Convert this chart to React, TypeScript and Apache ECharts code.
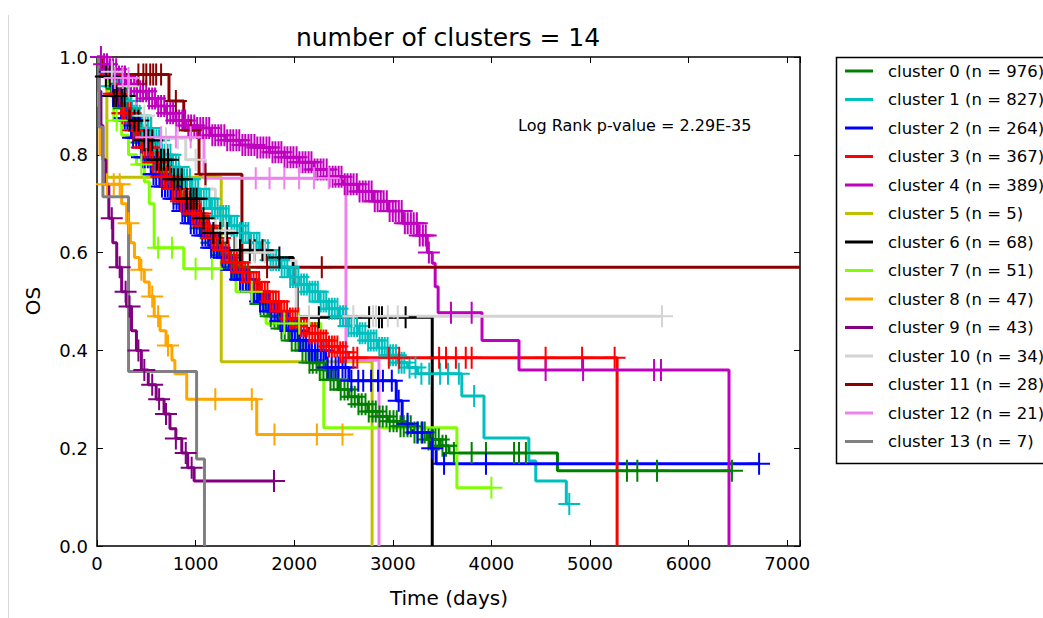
import React, { useEffect, useRef } from 'react';
import * as echarts from 'echarts';

// ---------- data (time in days, survival probability) ----------
const X_MAX = 7130;
const xTicks = [0, 1000, 2000, 3000, 4000, 5000, 6000, 7000];
const yTicks = [0, 0.2, 0.4, 0.6, 0.8, 1.0];

const clusterNames = [
  'cluster 0 (n = 976)', 'cluster 1 (n = 827)', 'cluster 2 (n = 264)', 'cluster 3 (n = 367)',
  'cluster 4 (n = 389)', 'cluster 5 (n = 5)', 'cluster 6 (n = 68)', 'cluster 7 (n = 51)',
  'cluster 8 (n = 47)', 'cluster 9 (n = 43)', 'cluster 10 (n = 34)', 'cluster 11 (n = 28)',
  'cluster 12 (n = 21)', 'cluster 13 (n = 7)',
];
const clusterColors = [
  '#008000', '#00bfbf', '#0000ff', '#ff0000', '#bf00bf', '#bfbf00', '#000000',
  '#7fff00', '#ffa500', '#800080', '#d3d3d3', '#8b0000', '#ee82ee', '#808080',
];

// cluster 0
const c0T = [0, 50, 150, 250, 350, 450, 550, 650, 750, 850, 950, 1050, 1150, 1250, 1350, 1450, 1550, 1650, 1750, 1850, 1950, 2050, 2150, 2250, 2350, 2450, 2550, 2650, 2750, 2850, 2950, 3050, 3200, 3350, 3480, 3570, 4670];
const c0S = [1, 0.975, 0.935, 0.895, 0.86, 0.825, 0.79, 0.76, 0.73, 0.7, 0.675, 0.65, 0.62, 0.595, 0.57, 0.545, 0.52, 0.495, 0.47, 0.445, 0.42, 0.4, 0.375, 0.36, 0.34, 0.32, 0.305, 0.29, 0.275, 0.265, 0.255, 0.245, 0.232, 0.218, 0.205, 0.19, 0.154];
const c0Last = 6440;
const c0Cens = [200, 238, 271, 309, 342, 380, 413, 451, 484, 522, 555, 593, 626, 664, 697, 735, 768, 806, 839, 877, 910, 948, 981, 1019, 1052, 1090, 1123, 1161, 1194, 1232, 1265, 1303, 1336, 1374, 1407, 1445, 1478, 1516, 1549, 1587, 1620, 1658, 1691, 1729, 1762, 1800, 1833, 1871, 1904, 1942, 1975, 2013, 2046, 2084, 2117, 2155, 2188, 2226, 2259, 2297, 2330, 2368, 2401, 2439, 2472, 2510, 2543, 2581, 2614, 2652, 2685, 2723, 2756, 2794, 2827, 2865, 2898, 2936, 2969, 3007, 3040, 3078, 3111, 3149, 3182, 3220, 3253, 3291, 3324, 3362, 3395, 3433, 3466, 3504, 3540, 3620, 3800, 3945, 4230, 4280, 4350, 5375, 5480, 5680, 6440];

// cluster 1
const c1T = [0, 60, 150, 250, 350, 450, 550, 650, 750, 850, 950, 1050, 1150, 1250, 1350, 1450, 1550, 1650, 1750, 1850, 1950, 2050, 2150, 2250, 2350, 2450, 2550, 2650, 2750, 2850, 2950, 3050, 3150, 3250, 3700, 3925, 4380, 4450, 4760];
const c1S = [1, 0.97, 0.94, 0.91, 0.88, 0.855, 0.83, 0.8, 0.775, 0.75, 0.73, 0.71, 0.69, 0.675, 0.655, 0.64, 0.62, 0.605, 0.585, 0.57, 0.55, 0.535, 0.52, 0.5, 0.485, 0.47, 0.45, 0.435, 0.42, 0.405, 0.39, 0.375, 0.365, 0.352, 0.307, 0.221, 0.174, 0.133, 0.086];
const c1Last = 4790;
const c1Cens = [150, 178, 205, 236, 262, 291, 318, 349, 377, 404, 433, 461, 490, 516, 547, 575, 603, 630, 659, 688, 716, 745, 771, 800, 829, 857, 884, 913, 942, 969, 998, 1026, 1055, 1083, 1110, 1139, 1168, 1195, 1224, 1252, 1281, 1309, 1336, 1365, 1394, 1421, 1450, 1478, 1507, 1535, 1562, 1591, 1620, 1647, 1676, 1704, 1733, 1761, 1788, 1817, 1846, 1873, 1902, 1930, 1959, 1987, 2014, 2043, 2072, 2099, 2128, 2156, 2185, 2213, 2240, 2269, 2298, 2325, 2354, 2382, 2411, 2439, 2466, 2495, 2524, 2551, 2580, 2608, 2637, 2665, 2692, 2721, 2750, 2777, 2806, 2834, 2863, 2891, 2918, 2947, 2976, 3003, 3032, 3060, 3089, 3117, 3170, 3230, 3290, 3370, 3480, 3560, 3670, 3825, 4790];

// cluster 2
const c2T = [0, 50, 150, 250, 350, 450, 550, 650, 750, 850, 950, 1050, 1150, 1250, 1350, 1450, 1550, 1650, 1750, 1850, 1950, 2050, 2150, 2320, 2555, 3035, 3095, 3200, 3380, 3440];
const c2S = [1, 0.97, 0.92, 0.875, 0.835, 0.795, 0.76, 0.735, 0.71, 0.685, 0.66, 0.635, 0.61, 0.59, 0.565, 0.545, 0.52, 0.5, 0.48, 0.46, 0.44, 0.42, 0.4, 0.365, 0.338, 0.297, 0.25, 0.232, 0.2, 0.168];
const c2Last = 6715;
const c2Cens = [130, 163, 191, 222, 249, 281, 308, 339, 366, 398, 425, 456, 483, 515, 542, 573, 600, 632, 659, 690, 717, 749, 776, 807, 834, 866, 893, 924, 951, 983, 1010, 1041, 1068, 1100, 1127, 1158, 1185, 1217, 1244, 1275, 1302, 1334, 1361, 1392, 1419, 1451, 1478, 1509, 1536, 1568, 1595, 1626, 1653, 1685, 1712, 1743, 1770, 1802, 1829, 1860, 1887, 1919, 1946, 1977, 2004, 2036, 2063, 2094, 2121, 2153, 2180, 2211, 2238, 2270, 2297, 2340, 2380, 2420, 2450, 2490, 2520, 2580, 2650, 2700, 2780, 2850, 2900, 2990, 3060, 3150, 3250, 3300, 3400, 3520, 3945, 6715];

// cluster 3
const c3T = [0, 60, 150, 250, 350, 450, 550, 650, 750, 850, 950, 1050, 1150, 1250, 1350, 1450, 1550, 1650, 1750, 1850, 1950, 2050, 2150, 2250, 2350, 2450, 2550, 5275];
const c3S = [1, 0.965, 0.925, 0.885, 0.85, 0.815, 0.785, 0.755, 0.73, 0.705, 0.68, 0.655, 0.63, 0.605, 0.58, 0.56, 0.54, 0.52, 0.5, 0.48, 0.465, 0.45, 0.435, 0.42, 0.408, 0.396, 0.385, 0];
const c3Last = 5275;
const c3Cens = [140, 172, 199, 228, 257, 284, 313, 342, 369, 398, 427, 454, 483, 512, 539, 568, 597, 624, 653, 682, 709, 738, 767, 794, 823, 852, 879, 908, 937, 964, 993, 1022, 1049, 1078, 1107, 1134, 1163, 1192, 1219, 1248, 1277, 1304, 1333, 1362, 1389, 1418, 1447, 1474, 1503, 1532, 1559, 1588, 1617, 1644, 1673, 1702, 1729, 1758, 1787, 1814, 1843, 1872, 1899, 1928, 1957, 1984, 2013, 2042, 2069, 2098, 2127, 2154, 2183, 2212, 2239, 2268, 2297, 2324, 2353, 2382, 2409, 2438, 2467, 2494, 2523, 2600, 2640, 2960, 3065, 3470, 3540, 3640, 3740, 3800, 4550, 4920, 5250];

// cluster 4
const c4T = [0, 60, 120, 200, 300, 400, 500, 600, 700, 800, 900, 1000, 1150, 1300, 1450, 1600, 1750, 1900, 2050, 2200, 2350, 2500, 2650, 2800, 2950, 3100, 3250, 3350, 3400, 3430, 3460, 3905, 4280, 6410];
const c4S = [1, 0.985, 0.975, 0.96, 0.945, 0.93, 0.915, 0.9, 0.885, 0.87, 0.86, 0.855, 0.84, 0.83, 0.82, 0.815, 0.805, 0.795, 0.785, 0.77, 0.755, 0.74, 0.725, 0.705, 0.685, 0.66, 0.635, 0.6, 0.578, 0.53, 0.477, 0.42, 0.36, 0];
const c4Last = 6410;
const c4Cens = [40, 72, 101, 133, 162, 194, 223, 255, 284, 316, 345, 377, 406, 438, 467, 499, 528, 560, 589, 621, 650, 682, 711, 743, 772, 804, 833, 865, 894, 926, 955, 987, 1016, 1048, 1077, 1109, 1138, 1170, 1199, 1231, 1260, 1292, 1321, 1353, 1382, 1414, 1443, 1475, 1504, 1536, 1565, 1597, 1626, 1658, 1687, 1719, 1748, 1780, 1809, 1841, 1870, 1902, 1931, 1963, 1992, 2024, 2053, 2085, 2114, 2146, 2175, 2207, 2236, 2268, 2297, 2329, 2358, 2390, 2419, 2451, 2480, 2512, 2541, 2573, 2602, 2634, 2663, 2695, 2724, 2756, 2785, 2817, 2846, 2878, 2907, 2939, 2968, 3000, 3029, 3061, 3090, 3122, 3151, 3183, 3212, 3244, 3273, 3305, 3334, 3366, 3590, 3800, 4550, 4930, 5650, 5720];

// cluster 5
const c5T = [0, 100, 1260, 2790];
const c5S = [1, 0.754, 0.377, 0];
const c5Last = 2790;
const c5Cens: number[] = [];

// cluster 6
const c6T = [0, 50, 150, 300, 450, 600, 750, 900, 1050, 1130, 1400, 1730, 1990, 2030, 3400];
const c6S = [1, 0.96, 0.92, 0.87, 0.83, 0.79, 0.75, 0.71, 0.67, 0.64, 0.605, 0.59, 0.537, 0.468, 0];
const c6Last = 3400;
const c6Cens = [90, 130, 170, 200, 250, 280, 330, 380, 420, 480, 520, 560, 610, 650, 680, 720, 780, 820, 860, 910, 950, 980, 1010, 1080, 1180, 1250, 1320, 1450, 1550, 1600, 1680, 1850, 2150, 2250, 2760, 2860, 2890, 3130];

// cluster 7
const c7T = [0, 70, 120, 170, 250, 320, 400, 480, 530, 580, 880, 1410, 1715, 2270, 2300, 3650];
const c7S = [1, 0.96, 0.92, 0.87, 0.84, 0.8, 0.78, 0.745, 0.7, 0.61, 0.567, 0.52, 0.455, 0.34, 0.242, 0.119];
const c7Last = 4000;
const c7Cens = [200, 450, 620, 760, 1000, 1165, 1570, 1900, 2050, 4000];

// cluster 8
const c8T = [0, 15, 30, 60, 250, 300, 340, 380, 430, 480, 530, 580, 640, 700, 760, 790, 910, 1620];
const c8S = [1, 0.9, 0.8, 0.74, 0.7, 0.66, 0.62, 0.59, 0.565, 0.54, 0.51, 0.47, 0.44, 0.41, 0.38, 0.352, 0.3, 0.228];
const c8Last = 2490;
const c8Cens = [100, 170, 230, 320, 450, 560, 620, 720, 1200, 1570, 1800, 2230, 2490];

// cluster 9
const c9T = [0, 20, 40, 60, 90, 120, 160, 200, 250, 300, 350, 400, 450, 520, 600, 680, 740, 800, 860, 920, 985];
const c9S = [1, 0.93, 0.86, 0.79, 0.74, 0.67, 0.62, 0.57, 0.52, 0.49, 0.44, 0.4, 0.36, 0.33, 0.3, 0.27, 0.24, 0.22, 0.19, 0.16, 0.133];
const c9Last = 1795;
const c9Cens = [150, 230, 290, 330, 420, 480, 560, 630, 700, 800, 900, 960, 1795];

// cluster 10
const c10T = [0, 80, 250, 400, 550, 900, 1100, 1200, 1410, 1800, 2020];
const c10S = [1, 0.97, 0.94, 0.88, 0.834, 0.79, 0.73, 0.645, 0.6, 0.584, 0.47];
const c10Last = 5730;
const c10Cens = [150, 320, 480, 700, 820, 1000, 1300, 1600, 1700, 2150, 2600, 2800, 2830, 2950, 3050, 5730];

// cluster 11
const c11T = [0, 60, 730, 880, 1035, 1470];
const c11S = [1, 0.964, 0.91, 0.85, 0.76, 0.57];
const c11Last = 7130;
const c11Cens = [420, 470, 500, 540, 570, 600, 650, 800, 950, 1100, 1725, 2280];

// cluster 12
const c12T = [0, 120, 400, 1085, 2525, 2860];
const c12S = [1, 0.957, 0.836, 0.752, 0.38, 0];
const c12Last = 2860;
const c12Cens = [180, 260, 320, 500, 650, 800, 950, 1610, 1750, 1900, 2050, 2200, 2350];

// cluster 13
const c13T = [0, 20, 60, 320, 1010, 1090];
const c13S = [1, 0.857, 0.714, 0.357, 0.178, 0];
const c13Last = 1090;
const c13Cens: number[] = [];

const allT = [c0T, c1T, c2T, c3T, c4T, c5T, c6T, c7T, c8T, c9T, c10T, c11T, c12T, c13T];
const allS = [c0S, c1S, c2S, c3S, c4S, c5S, c6S, c7S, c8S, c9S, c10S, c11S, c12S, c13S];
const allLast = [c0Last, c1Last, c2Last, c3Last, c4Last, c5Last, c6Last, c7Last, c8Last, c9Last, c10Last, c11Last, c12Last, c13Last];
const allCens = [c0Cens, c1Cens, c2Cens, c3Cens, c4Cens, c5Cens, c6Cens, c7Cens, c8Cens, c9Cens, c10Cens, c11Cens, c12Cens, c13Cens];

function survivalAt(ts: number[], ss: number[], t: number) {
  let s = ss[0];
  for (let i = 0; i < ts.length; i++) if (ts[i] <= t) s = ss[i];
  return s;
}

const FONT = 'DejaVu Sans';
const CROSS = 'path://M10,0H12V10H22V12H12V22H10V12H0V10H10Z';

export default function App() {
  const ref = useRef<HTMLDivElement>(null);
  useEffect(() => {
    const chart = echarts.init(ref.current!, null, { renderer: 'svg' });
    const series: any[] = [];
    for (let k = 0; k < allT.length; k++) {
      const ts = allT[k];
      const ss = allS[k];
      const pts: number[][] = ts.map((t, i) => [t, ss[i]]);
      const lastT = ts[ts.length - 1];
      if (allLast[k] > lastT) pts.push([allLast[k], ss[ss.length - 1]]);
      series.push({
        type: 'line',
        name: clusterNames[k],
        data: pts,
        step: 'end',
        symbol: 'none',
        showSymbol: false,
        lineStyle: { color: clusterColors[k], width: 3 },
        itemStyle: { color: clusterColors[k] },
        z: 2,
      });
      if (allCens[k].length) {
        series.push({
          type: 'scatter',
          name: 'censored ' + k,
          data: allCens[k].map((t) => [t, survivalAt(ts, ss, t)]),
          symbol: CROSS,
          symbolSize: 22,
          itemStyle: { color: clusterColors[k], opacity: 1 },
          z: 2,
        });
      }
    }

    const axisCommon = {
      type: 'value',
      axisLine: { show: true, onZero: false, lineStyle: { color: '#000', width: 1.5 } },
      axisTick: { show: true, inside: true, length: 6, lineStyle: { color: '#000', width: 1 } },
      splitLine: { show: false },
    };

    chart.setOption({
      animation: false,
      backgroundColor: '#fff',
      grid: { left: 97, right: 243, top: 57, bottom: 72, containLabel: false },
      xAxis: [
        {
          ...axisCommon, position: 'bottom', min: 0, max: X_MAX, interval: 1000,
          axisLabel: {
            show: true, margin: 8, color: '#000', fontFamily: FONT, fontSize: 18,
            formatter: (v: number) => (xTicks.indexOf(v) >= 0 ? String(v) : ''),
          },
        },
        {
          ...axisCommon, position: 'top', min: 0, max: X_MAX, interval: 1000,
          axisLabel: { show: false },
        },
      ],
      yAxis: [
        {
          ...axisCommon, position: 'left', min: 0, max: 1, interval: 0.2,
          axisLabel: {
            show: true, margin: 9, color: '#000', fontFamily: FONT, fontSize: 18,
            formatter: (v: number) => {
              const m = yTicks.find((t) => Math.abs(t - v) < 1e-6);
              return m === undefined ? '' : m.toFixed(1);
            },
          },
        },
        {
          ...axisCommon, position: 'right', min: 0, max: 1, interval: 0.2,
          axisLabel: { show: false },
        },
      ],
      legend: {
        show: true,
        data: clusterNames,
        orient: 'vertical',
        left: 836,
        top: 57,
        icon: 'rect',
        itemWidth: 28,
        itemHeight: 3,
        itemGap: 10.5,
        padding: [5, 0, 12, 9],
        borderWidth: 0,
        textStyle: { color: '#000', fontFamily: FONT, fontSize: 16.5, lineHeight: 18, padding: [0, 0, 0, 10] },
      },
      graphic: [
        { type: 'line', shape: { x1: 8.5, y1: 15, x2: 8.5, y2: 618 }, style: { stroke: '#d8d8d8', lineWidth: 1 } },
        {
          type: 'rect', shape: { x: 836.5, y: 57.5, width: 240, height: 406 },
          style: { fill: 'none', stroke: '#000', lineWidth: 1.5 }, z: 100,
        },
        {
          type: 'text', x: 448, y: 37,
          style: { text: 'number of clusters = 14', font: `25px "${FONT}"`, fill: '#000', textAlign: 'center', textVerticalAlign: 'middle', align: 'center', verticalAlign: 'middle' },
        },
        {
          type: 'text', x: 449, y: 598,
          style: { text: 'Time (days)', font: `20px "${FONT}"`, fill: '#000', textAlign: 'center', textVerticalAlign: 'middle', align: 'center', verticalAlign: 'middle' },
        },
        {
          type: 'text', x: 33, y: 301, rotation: Math.PI / 2,
          style: { text: 'OS', font: `20px "${FONT}"`, fill: '#000', textAlign: 'center', textVerticalAlign: 'middle', align: 'center', verticalAlign: 'middle' },
        },
        {
          type: 'text', x: 518, y: 125,
          style: { text: 'Log Rank p-value = 2.29E-35', font: `16px "${FONT}"`, fill: '#000', textAlign: 'left', textVerticalAlign: 'middle', align: 'left', verticalAlign: 'middle' },
        },
      ],
      series,
    });
    return () => chart.dispose();
  }, []);
  return <div ref={ref} style={{ position: 'fixed', left: 0, top: 0, width: 1043, height: 618, background: '#fff' }} />;
}
